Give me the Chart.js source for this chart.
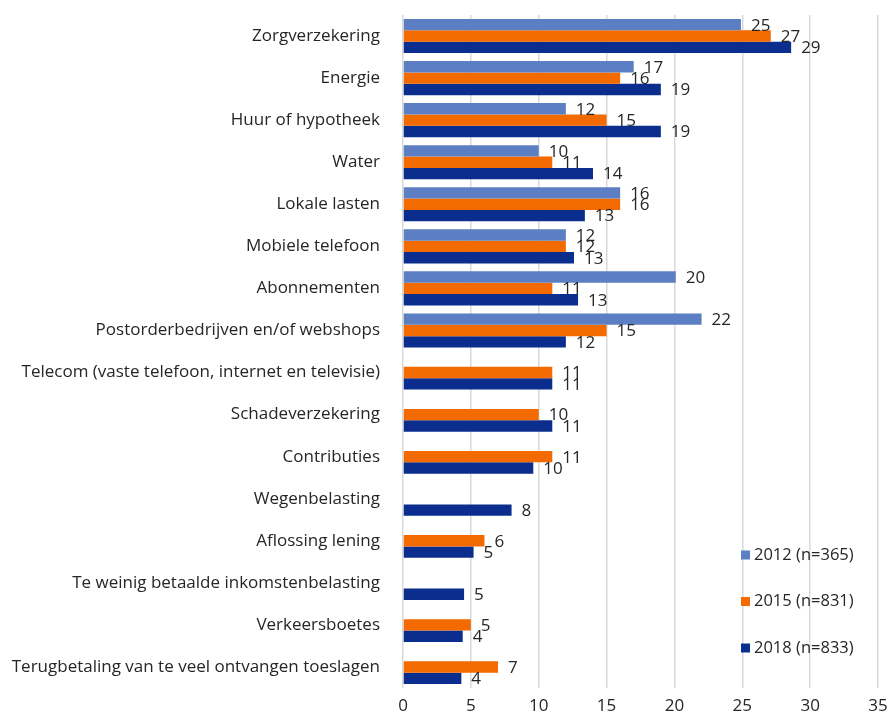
<!DOCTYPE html>
<html>
<head>
<meta charset="utf-8">
<script src="https://cdn.jsdelivr.net/npm/chart.js@4"></script>
<style>
  html, body { margin: 0; padding: 0; background: #fff; }
  #wrap { width: 890px; height: 718px; position: relative; }
</style>
</head>
<body>
<div id="wrap"><canvas id="betalingsachterstanden"></canvas></div>
<script>
// Categorieën (van boven naar beneden)
const categories = [
  "Zorgverzekering",
  "Energie",
  "Huur of hypotheek",
  "Water",
  "Lokale lasten",
  "Mobiele telefoon",
  "Abonnementen",
  "Postorderbedrijven en/of webshops",
  "Telecom (vaste telefoon, internet en televisie)",
  "Schadeverzekering",
  "Contributies",
  "Wegenbelasting",
  "Aflossing lening",
  "Te weinig betaalde inkomstenbelasting",
  "Verkeersboetes",
  "Terugbetaling van te veel ontvangen toeslagen",
];

// Percentages per jaar (null = niet gevraagd)
const values2012 = [24.9, 17.0, 12.0, 10.0, 16.0, 12.0, 20.1, 22.0, null, null, null, null, null, null, null, null];
const values2015 = [27.1, 16.0, 15.0, 11.0, 16.0, 12.0, 11.0, 15.0, 11.0, 10.0, 11.0, null, 6.0, null, 5.0, 7.0];
const values2018 = [28.6, 19.0, 19.0, 14.0, 13.4, 12.6, 12.9, 12.0, 11.0, 11.0, 9.6, 8.0, 5.2, 4.5, 4.4, 4.3];

const seriesLabels = ["2012 (n=365)", "2015 (n=831)", "2018 (n=833)"];
const seriesColors = ["#5B7FC2", "#F26A00", "#0B2E8E"];

const xTicks = [0, 5, 10, 15, 20, 25, 30, 35];

const FONT = "'Open Sans', 'DejaVu Sans', sans-serif";
const TEXT = "#262626";

// Waardelabels aan het eind van elke balk
const valueLabelPlugin = {
  id: "valueLabels",
  afterDatasetsDraw(chart) {
    const ctx = chart.ctx;
    ctx.save();
    ctx.font = "17px " + FONT;
    ctx.fillStyle = TEXT;
    ctx.textAlign = "left";
    ctx.textBaseline = "middle";
    chart.data.datasets.forEach((ds, i) => {
      const meta = chart.getDatasetMeta(i);
      meta.data.forEach((bar, j) => {
        const v = ds.data[j];
        if (v === null || v === undefined) return;
        ctx.fillText(String(Math.round(v)), bar.x + 10, bar.y + 1);
      });
    });
    ctx.restore();
  },
};

// Legenda rechtsonder in het plotgebied
const cornerLegendPlugin = {
  id: "cornerLegend",
  afterDraw(chart) {
    const ctx = chart.ctx;
    const area = chart.chartArea;
    ctx.save();
    ctx.font = "16.5px " + FONT;
    ctx.textBaseline = "middle";
    ctx.textAlign = "left";
    chart.data.datasets.forEach((ds, i) => {
      const y = area.bottom - 133 + i * 46.5;
      const x = area.right - 137;
      ctx.fillStyle = ds.backgroundColor;
      ctx.fillRect(x, y - 4.5, 9, 9);
      ctx.fillStyle = TEXT;
      ctx.fillText(ds.label, x + 13, y);
    });
    ctx.restore();
  },
};

new Chart(document.getElementById("betalingsachterstanden"), {
  type: "bar",
  data: {
    labels: categories,
    datasets: [values2012, values2015, values2018].map((vals, i) => ({
      label: seriesLabels[i],
      data: vals,
      backgroundColor: seriesColors[i],
      borderWidth: 0,
      categoryPercentage: 0.81,
      barPercentage: 1.0,
      skipNull: false,
    })),
  },
  options: {
    indexAxis: "y",
    responsive: true,
    maintainAspectRatio: false,
    animation: false,
    layout: { padding: { top: 15, right: 12, left: 0, bottom: 0 } },
    plugins: {
      legend: { display: false },
      tooltip: { enabled: false },
    },
    scales: {
      x: {
        min: 0,
        max: 35,
        afterBuildTicks(scale) {
          scale.ticks = xTicks.map((v) => ({ value: v }));
        },
        afterFit(scale) {
          scale.height = 30;
          scale.paddingLeft = 0;
          scale.paddingRight = 0;
        },
        grid: {
          color: "#d9d9d9",
          lineWidth: 1.5,
          drawTicks: false,
        },
        border: { display: false },
        ticks: {
          color: TEXT,
          font: { family: FONT, size: 17 },
          padding: 8,
        },
      },
      y: {
        afterFit(scale) {
          scale.width = 403;
          scale.paddingTop = 0;
          scale.paddingBottom = 0;
        },
        grid: { display: false },
        border: { display: false },
        ticks: {
          color: TEXT,
          font: { family: FONT, size: 17 },
          padding: 15,
          autoSkip: false,
        },
      },
    },
  },
  plugins: [valueLabelPlugin, cornerLegendPlugin],
});
</script>
</body>
</html>
